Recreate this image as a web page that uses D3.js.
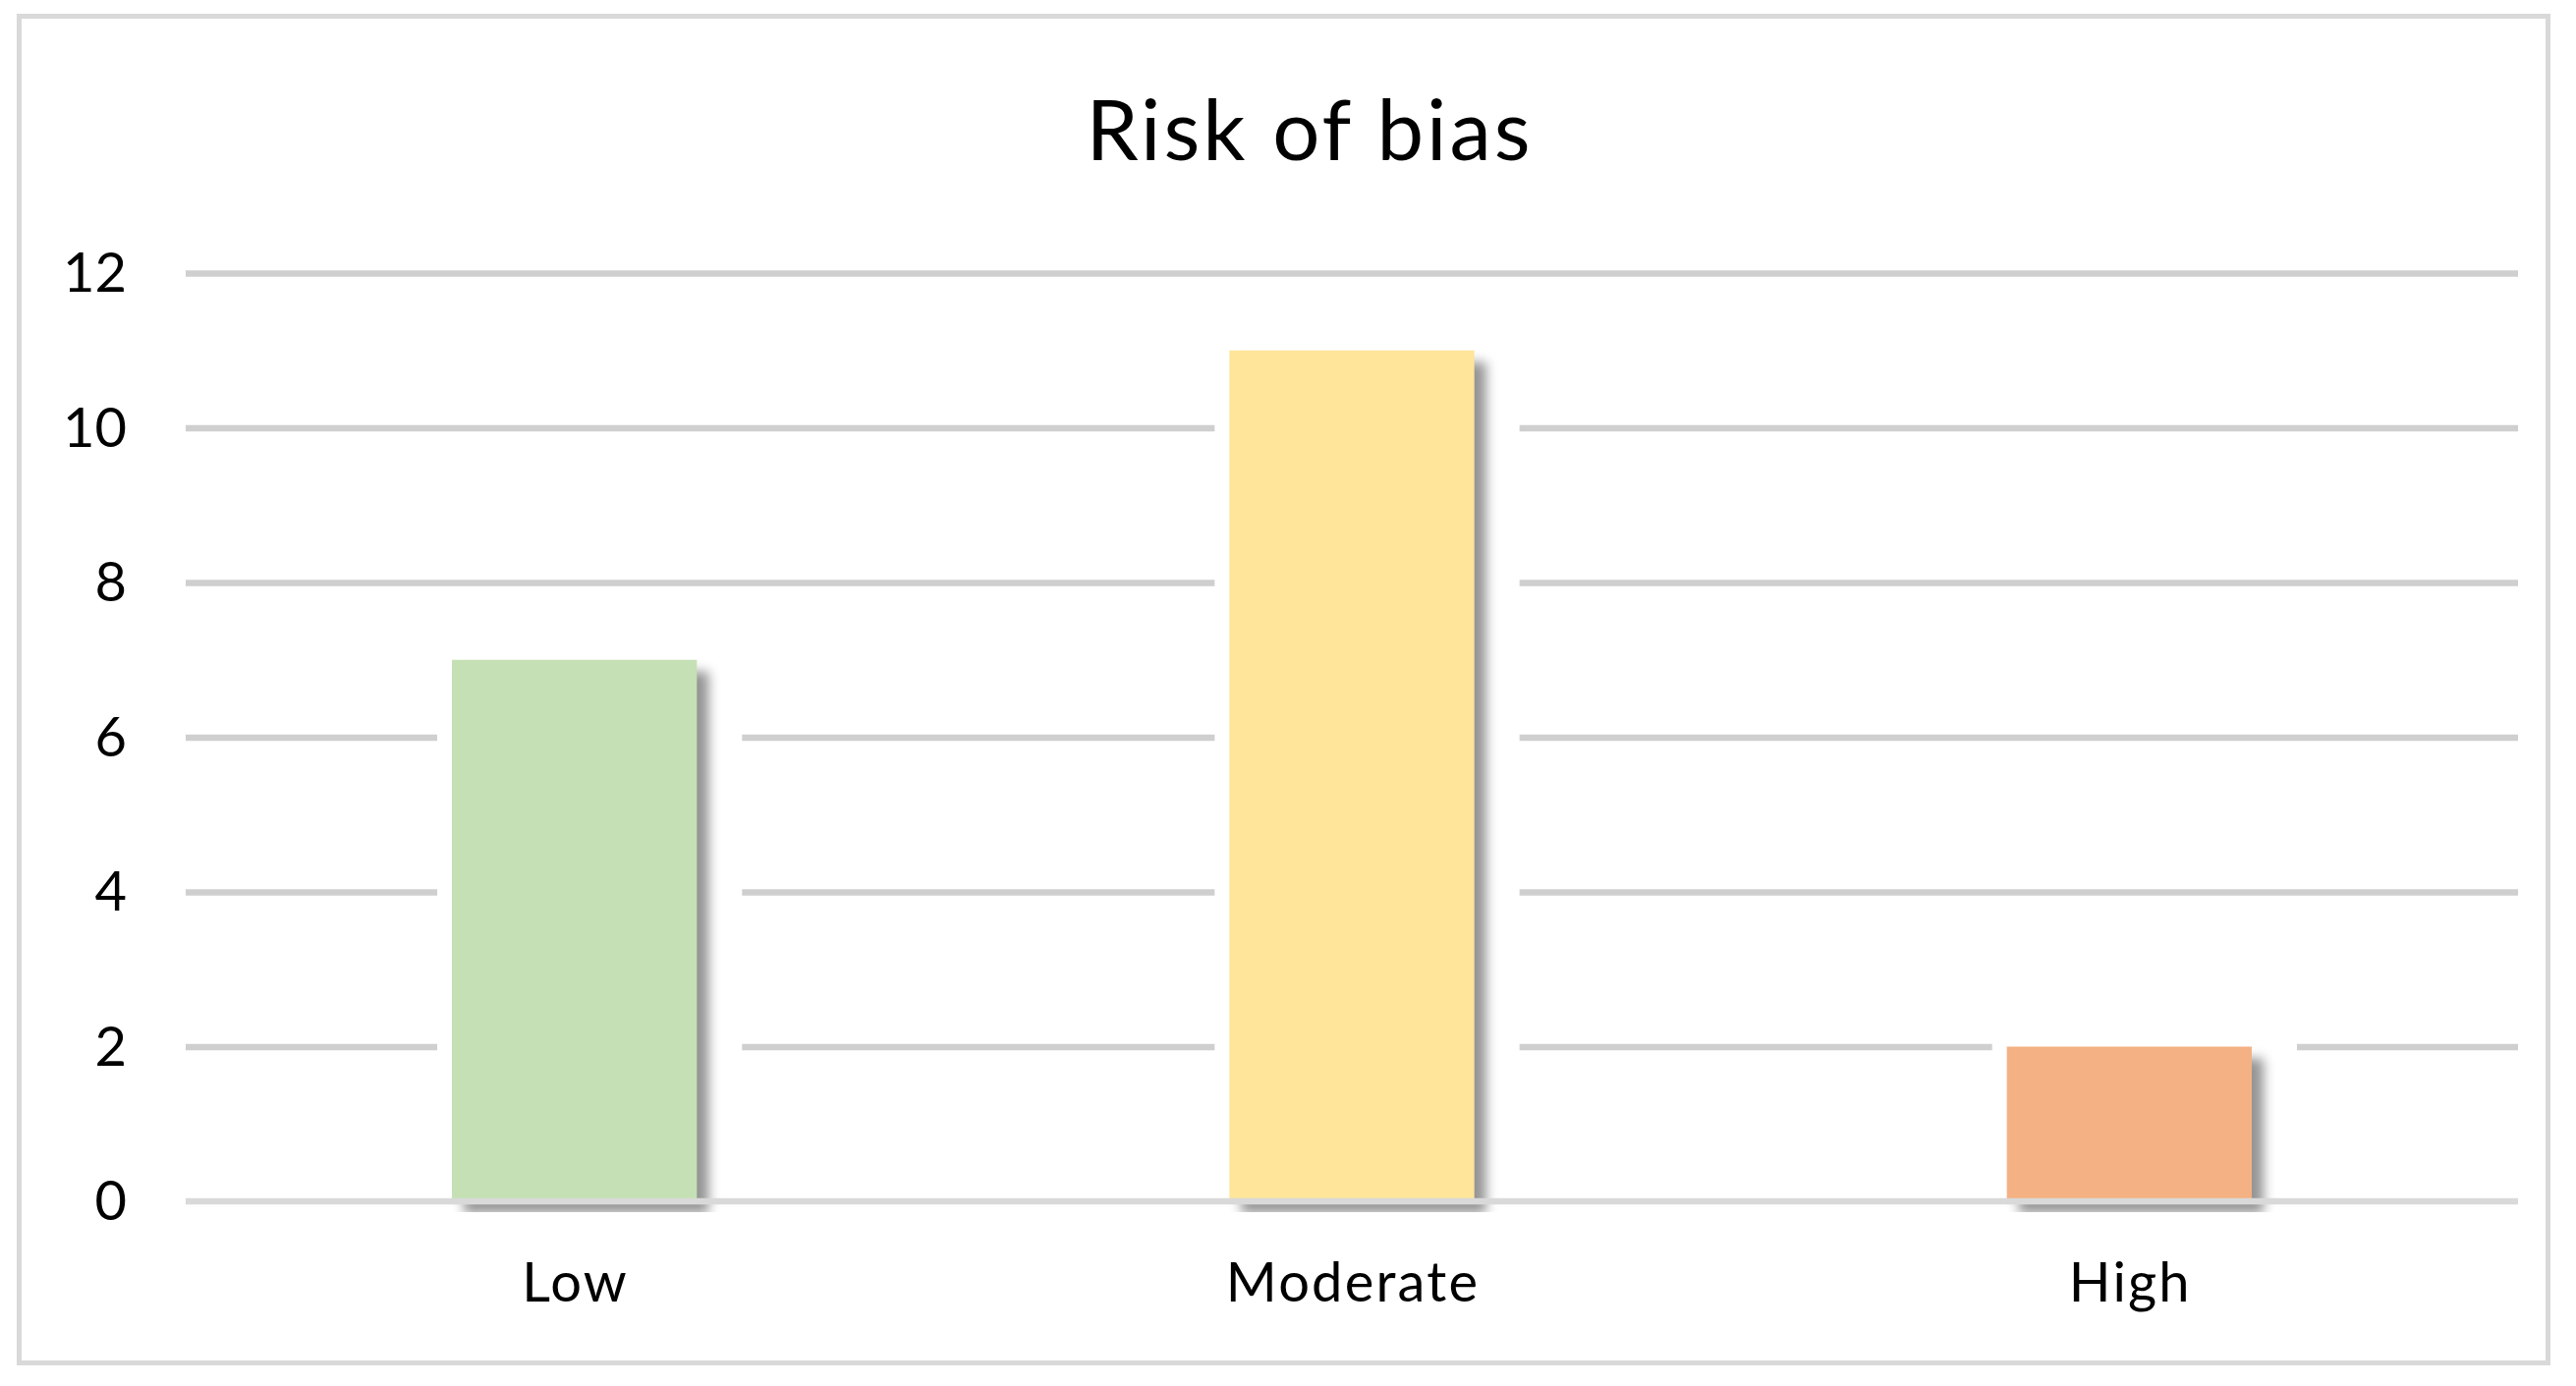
<!DOCTYPE html>
<html>
<head>
<meta charset="utf-8">
<script src="https://cdn.jsdelivr.net/npm/d3@7"></script>
<style>
  html, body { margin: 0; padding: 0; background: #ffffff; }
  svg { display: block; }
  text { font-family: Lato, "Open Sans", sans-serif; fill: #000; }
</style>
</head>
<body>
<svg id="chart" width="2622" height="1411"></svg>
<script>
const categories = ["Low", "Moderate", "High"];
const values = [7, 11, 2];
const barColors = ["#c5e0b4", "#fee599", "#f4b183"];
const yTicks = [0, 2, 4, 6, 8, 10, 12];
const titleText = "Risk of bias";

const W = 2622, H = 1411;
const plot = { left: 189, right: 2563, top: 278, bottom: 1223 };

const svg = d3.select("#chart");

// outer chart border
svg.append("rect")
  .attr("x", 19.5).attr("y", 16.5)
  .attr("width", 2574).attr("height", 1371)
  .attr("fill", "#ffffff")
  .attr("stroke", "#d9d9d9").attr("stroke-width", 5);

const x = d3.scaleBand()
  .domain(categories)
  .range([plot.left, plot.right])
  .paddingInner(0.685)
  .paddingOuter(0.3425);

const y = d3.scaleLinear().domain([0, 12]).range([plot.bottom, plot.top]);

// defs: shadow filter + clip
const defs = svg.append("defs");
const f = defs.append("filter").attr("id", "shadow")
  .attr("x", "-20%").attr("y", "-20%").attr("width", "150%").attr("height", "150%");
f.append("feGaussianBlur").attr("in", "SourceAlpha").attr("stdDeviation", 6).attr("result", "b");
f.append("feOffset").attr("in", "b").attr("dx", 12).attr("dy", 12).attr("result", "o");
f.append("feFlood").attr("flood-color", "#000").attr("flood-opacity", 0.42).attr("result", "c");
f.append("feComposite").attr("in", "c").attr("in2", "o").attr("operator", "in");

defs.append("clipPath").attr("id", "plotclip")
  .append("rect")
  .attr("x", plot.left - 30).attr("y", plot.top - 20)
  .attr("width", plot.right - plot.left + 60).attr("height", 1234 - plot.top + 20);

// gridlines (except zero which is drawn as axis line on top)
const yAxis = d3.axisLeft(y)
  .tickValues(yTicks)
  .tickSize(-(plot.right - plot.left))
  .tickFormat("");
const grid = svg.append("g").attr("transform", `translate(${plot.left},0)`).call(yAxis);
grid.select(".domain").remove();
grid.selectAll(".tick line").attr("stroke", "#d0cfcf").attr("stroke-width", 6.5);
grid.selectAll(".tick").filter(d => d === 0).remove();

// bars
const gBars = svg.append("g").attr("clip-path", "url(#plotclip)");
const bars = gBars.selectAll("g.bar").data(categories).join("g").attr("class", "bar");

// white halo behind bar (covers gridlines like the reference)
bars.append("rect")
  .attr("x", d => x(d) - 15)
  .attr("y", (d, i) => y(values[i]) - 14)
  .attr("width", x.bandwidth() + 61)
  .attr("height", (d, i) => y(0) - y(values[i]) + 30)
  .attr("fill", "#ffffff");

// shadow
bars.append("rect")
  .attr("x", d => x(d))
  .attr("y", (d, i) => y(values[i]))
  .attr("width", x.bandwidth())
  .attr("height", (d, i) => y(0) - y(values[i]))
  .attr("fill", "#000")
  .attr("filter", "url(#shadow)");

// bar
bars.append("rect")
  .attr("x", d => x(d))
  .attr("y", (d, i) => y(values[i]))
  .attr("width", x.bandwidth())
  .attr("height", (d, i) => y(0) - y(values[i]))
  .attr("fill", (d, i) => barColors[i]);

// zero axis line on top
svg.append("line")
  .attr("x1", plot.left).attr("x2", plot.right)
  .attr("y1", y(0)).attr("y2", y(0))
  .attr("stroke", "#d9d9d9").attr("stroke-width", 6.5);

// y tick labels
svg.append("g").selectAll("text").data(yTicks).join("text")
  .attr("x", 129)
  .attr("y", d => y(d) + 19)
  .attr("text-anchor", "end")
  .attr("font-size", 56)
  .text(d => d);

// category labels
svg.append("g").selectAll("text").data(categories).join("text")
  .attr("x", d => x(d) + x.bandwidth() / 2 + 1)
  .attr("y", 1325)
  .attr("text-anchor", "middle")
  .attr("font-size", 56)
  .attr("letter-spacing", 2.2)
  .text(d => d);

// title
svg.append("text")
  .attr("x", 1333).attr("y", 163)
  .attr("text-anchor", "middle")
  .attr("font-size", 85)
  .attr("letter-spacing", 3)
  .text(titleText);
</script>
</body>
</html>
